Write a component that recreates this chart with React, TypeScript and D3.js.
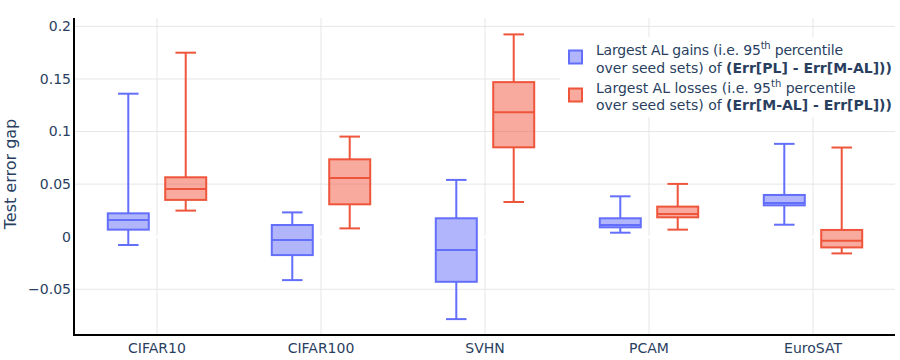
import React from "react";
import * as d3 from "d3";

const categories = ["CIFAR10", "CIFAR100", "SVHN", "PCAM", "EuroSAT"];
// [lowerWhisker, q1, median, q3, upperWhisker]
const gainsStats = [
  [-0.0079, 0.0067, 0.0159, 0.0222, 0.136],
  [-0.0413, -0.0175, -0.0032, 0.0111, 0.0231],
  [-0.0784, -0.0429, -0.0127, 0.0175, 0.054],
  [0.0038, 0.0089, 0.0111, 0.0175, 0.0384],
  [0.0114, 0.0298, 0.0321, 0.0397, 0.0883],
];
const lossesStats = [
  [0.0248, 0.035, 0.0454, 0.0565, 0.175],
  [0.0079, 0.0308, 0.0559, 0.0736, 0.0952],
  [0.033, 0.085, 0.1184, 0.147, 0.1924],
  [0.0067, 0.0184, 0.0216, 0.0286, 0.0502],
  [-0.0159, -0.0102, -0.0038, 0.0064, 0.0848],
];
const yTicks = [-0.05, 0, 0.05, 0.1, 0.15, 0.2];
const yTickLabels = ["\u22120.05", "0", "0.05", "0.1", "0.15", "0.2"];
const seriesKeys = ["gains", "losses"];

const W = 900;
const H = 360;
const M = { left: 75, right: 895, top: 18, bottom: 335 };
const FONT = "'DejaVu Sans', Verdana, sans-serif";
const TXT = "#2a3f5f";
const COLORS: Record<string, string> = { gains: "#636efa", losses: "#ef553b" };
const FILLS: Record<string, string> = {
  gains: "rgba(99,110,250,0.5)",
  losses: "rgba(239,85,59,0.5)",
};

export default function App() {
  const x = d3.scaleBand().domain(categories).range([M.left, M.right]).padding(0);
  const inner = d3
    .scaleBand()
    .domain(seriesKeys)
    .range([0, x.bandwidth()])
    .paddingInner(0.286)
    .paddingOuter(0.571);
  const y = d3.scaleLinear().domain([-0.0935, 0.208]).range([M.bottom, M.top]);

  const bw = inner.bandwidth();
  const renderBox = (key: string, stats: number[], cat: string) => {
    const cx = (x(cat) as number) + (inner(key) as number) + bw / 2;
    const [lo, q1, med, q3, hi] = stats;
    const c = COLORS[key];
    return (
      <g key={key + cat}>
        <line x1={cx} x2={cx} y1={y(q3)} y2={y(hi)} stroke={c} strokeWidth={2} />
        <line x1={cx} x2={cx} y1={y(q1)} y2={y(lo)} stroke={c} strokeWidth={2} />
        <line x1={cx - bw / 4} x2={cx + bw / 4} y1={y(hi)} y2={y(hi)} stroke={c} strokeWidth={2} />
        <line x1={cx - bw / 4} x2={cx + bw / 4} y1={y(lo)} y2={y(lo)} stroke={c} strokeWidth={2} />
        <rect
          x={cx - bw / 2}
          y={y(q3)}
          width={bw}
          height={y(q1) - y(q3)}
          fill={FILLS[key]}
          stroke={c}
          strokeWidth={2}
        />
        <line x1={cx - bw / 2} x2={cx + bw / 2} y1={y(med)} y2={y(med)} stroke={c} strokeWidth={2} />
      </g>
    );
  };

  const legendX = 569;
  const legendTextX = 596;

  return (
    <svg width={W} height={H} style={{ position: "absolute", left: 0, top: 0, background: "#fff" }}>
      <rect x={0} y={0} width={W} height={H} fill="#fff" />
      {/* horizontal grid */}
      {yTicks.map((t) =>
        t === 0 ? null : (
          <line key={"g" + t} x1={M.left} x2={M.right} y1={y(t)} y2={y(t)} stroke="#e6e6e6" strokeWidth={1} />
        )
      )}
      {/* vertical grid */}
      {categories.map((c) => {
        const cx = (x(c) as number) + x.bandwidth() / 2;
        return <line key={"v" + c} x1={cx} x2={cx} y1={M.top} y2={M.bottom} stroke="#e6e6e6" strokeWidth={1} />;
      })}
      {/* zero line */}
      <line x1={M.left} x2={M.right} y1={y(0)} y2={y(0)} stroke="#ffffff" strokeWidth={2} />

      {/* boxes */}
      {categories.map((c, i) => (
        <g key={"b" + c}>
          {renderBox("gains", gainsStats[i], c)}
          {renderBox("losses", lossesStats[i], c)}
        </g>
      ))}

      {/* axes */}
      <line x1={M.left - 1} x2={M.left - 1} y1={M.top} y2={M.bottom + 1} stroke="#000" strokeWidth={2} />
      <line x1={M.left - 2} x2={M.right} y1={M.bottom} y2={M.bottom} stroke="#000" strokeWidth={2} />

      {/* y tick labels */}
      {yTicks.map((t, i) => (
        <text
          key={"yl" + t}
          x={71}
          y={y(t)}
          dy="0.35em"
          textAnchor="end"
          fontFamily={FONT}
          fontSize={14}
          fill={TXT}
        >
          {yTickLabels[i]}
        </text>
      ))}
      {/* x tick labels */}
      {categories.map((c) => (
        <text
          key={"xl" + c}
          x={(x(c) as number) + x.bandwidth() / 2}
          y={353}
          textAnchor="middle"
          fontFamily={FONT}
          fontSize={14}
          fill={TXT}
        >
          {c}
        </text>
      ))}
      {/* y title */}
      <text
        transform={`translate(16,174) rotate(-90)`}
        textAnchor="middle"
        fontFamily={FONT}
        fontSize={16}
        fill={TXT}
      >
        Test error gap
      </text>

      {/* legend */}
      <rect x={560} y={37} width={335} height={80} fill="#fff" />
      <rect x={legendX} y={50.5} width={13} height={13} fill={FILLS.gains} stroke={COLORS.gains} strokeWidth={2} />
      <rect x={legendX} y={88.5} width={13} height={13} fill={FILLS.losses} stroke={COLORS.losses} strokeWidth={2} />
      <g fontFamily={FONT} fontSize={14} fill={TXT}>
        <text x={legendTextX} y={55} textLength={247} lengthAdjust="spacing">
          Largest AL gains (i.e. 95<tspan fontSize={10} dy={-6}>th</tspan>
          <tspan dy={6}> percentile</tspan>
        </text>
        <text x={legendTextX} y={72.5}>
          over seed sets) of <tspan fontWeight="bold">(Err[PL] - Err[M-AL]))</tspan>
        </text>
        <text x={legendTextX} y={92.5}>
          Largest AL losses (i.e. 95<tspan fontSize={10} dy={-6}>th</tspan>
          <tspan dy={6}> percentile</tspan>
        </text>
        <text x={legendTextX} y={110}>
          over seed sets) of <tspan fontWeight="bold">(Err[M-AL] - Err[PL]))</tspan>
        </text>
      </g>
    </svg>
  );
}
